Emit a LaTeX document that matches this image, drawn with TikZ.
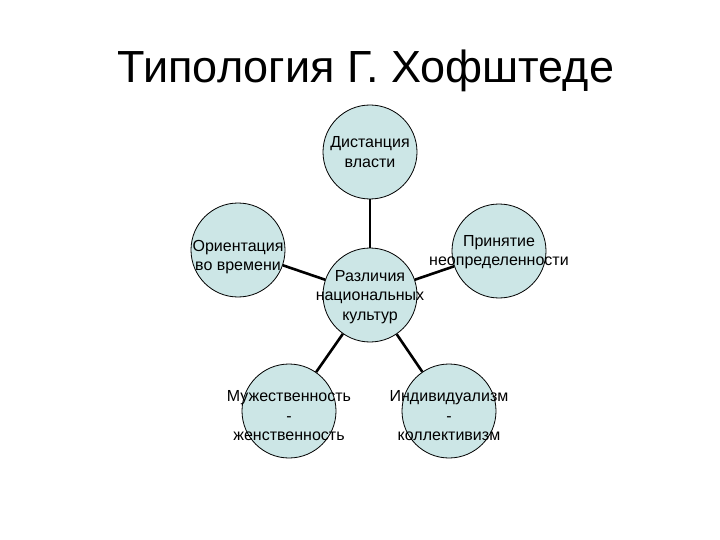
\documentclass[tikz,border=0pt]{standalone}
\usepackage{fontspec}
\setmainfont{Liberation Sans}
\definecolor{krugfill}{RGB}{204,230,230}
\begin{document}
\begin{tikzpicture}[x=1pt,y=-1pt,
  krug/.style={draw,circle,fill=krugfill,inner sep=0pt,minimum size=94pt,line width=0.8pt},
  txt/.style={align=center,font=\fontsize{16}{19.5}\selectfont,inner sep=0pt},
  svyaz/.style={line width=2.6pt}]
\useasboundingbox (0,0) rectangle (720,540);
\node[anchor=base,font=\fontsize{45}{50}\selectfont] (title) at (366,83) {Типология Г. Хофштеде};
% krugi
\node[krug] (c0) at (370,295) {};
\node[krug] (c1) at (370,152) {};
\node[krug] (c2) at (238,250) {};
\node[krug] (c3) at (499,251) {};
\node[krug] (c4) at (289,411) {};
\node[krug] (c5) at (449,411) {};
% svyazi
\draw[svyaz] (c0) -- (c1);
\draw[svyaz] (c0) -- (c2);
\draw[svyaz] (c0) -- (c3);
\draw[svyaz] (c0) -- (c4);
\draw[svyaz] (c0) -- (c5);
% teksty
\node[txt] (t0) at ([yshift=-2pt]c0) {Различия\\национальных\\культур};
\node[txt] (t1) at (c1) {Дистанция\\власти};
\node[txt] (t2) at ([yshift=-7pt]c2) {Ориентация\\во времени};
\node[txt] (t3) at ([yshift=-1pt]c3) {Принятие\\неопределенности};
\node[txt] (t4) at ([yshift=-5pt]c4) {Мужественность\\-\\женственность};
\node[txt] (t5) at ([yshift=-5pt]c5) {Индивидуализм\\-\\коллективизм};
\end{tikzpicture}
\end{document}
